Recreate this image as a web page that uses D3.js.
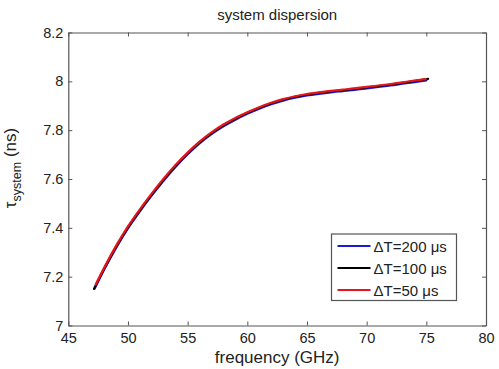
<!DOCTYPE html>
<html>
<head>
<meta charset="utf-8">
<script src="https://cdn.jsdelivr.net/npm/d3@7"></script>
<style>
  html, body { margin: 0; padding: 0; background: #fff; }
  #chart { width: 499px; height: 369px; }
  text { font-family: "Liberation Sans", Arial, Helvetica, sans-serif; }
</style>
</head>
<body>
<div id="chart"></div>
<script>
// frequency samples (GHz)
const freqBlue  = [47.2, 48, 49, 50, 51, 52, 53, 54, 55, 56, 57, 58, 59, 60, 61, 62, 63, 64, 65, 66, 67, 68, 69, 70, 71, 72, 73, 74, 75.0];
const freqBlack = [47.15, 48, 49, 50, 51, 52, 53, 54, 55, 56, 57, 58, 59, 60, 61, 62, 63, 64, 65, 66, 67, 68, 69, 70, 71, 72, 73, 74, 75.15];
const freqRed   = [47.3, 48, 49, 50, 51, 52, 53, 54, 55, 56, 57, 58, 59, 60, 61, 62, 63, 64, 65, 66, 67, 68, 69, 70, 71, 72, 73, 74, 74.95];

// system delay (ns)
const tauBlue  = [7.150, 7.228, 7.318, 7.398, 7.468, 7.533, 7.594, 7.650, 7.701, 7.746, 7.784, 7.816, 7.843, 7.867, 7.888, 7.906, 7.921, 7.933, 7.942, 7.949, 7.955, 7.960, 7.965, 7.971, 7.977, 7.983, 7.990, 7.997, 8.004];
const tauBlack = [7.150, 7.232, 7.322, 7.402, 7.472, 7.537, 7.598, 7.654, 7.705, 7.750, 7.788, 7.820, 7.847, 7.871, 7.892, 7.910, 7.925, 7.937, 7.946, 7.953, 7.959, 7.964, 7.969, 7.975, 7.981, 7.987, 7.994, 8.001, 8.010];
const tauRed   = [7.168, 7.236, 7.326, 7.406, 7.476, 7.541, 7.602, 7.658, 7.708, 7.753, 7.791, 7.823, 7.850, 7.873, 7.894, 7.912, 7.927, 7.939, 7.948, 7.955, 7.961, 7.966, 7.971, 7.977, 7.983, 7.989, 7.996, 8.003, 8.009];

const xTicks = [45, 50, 55, 60, 65, 70, 75, 80];
const yTicks = [7, 7.2, 7.4, 7.6, 7.8, 8, 8.2];

const seriesNames = ["\u0394T=200 \u03bcs", "\u0394T=100 \u03bcs", "\u0394T=50 \u03bcs"];
const seriesColors = ["#1a1ad6", "#000000", "#e8141c"];

const series = [
  { name: seriesNames[0], color: seriesColors[0], x: freqBlue, y: tauBlue },
  { name: seriesNames[1], color: seriesColors[1], x: freqBlack, y: tauBlack },
  { name: seriesNames[2], color: seriesColors[2], x: freqRed, y: tauRed }
];

const width = 499, height = 369;
const margin = { top: 32.5, right: 13, bottom: 43.5, left: 68.3 };
const w = width - margin.left - margin.right;
const h = height - margin.top - margin.bottom;

const svg = d3.select("#chart").append("svg")
  .attr("width", width)
  .attr("height", height);

const g = svg.append("g")
  .attr("transform", `translate(${margin.left},${margin.top})`);

const xScale = d3.scaleLinear().domain([45, 80]).range([0, w]);
const yScale = d3.scaleLinear().domain([7, 8.2]).range([h, 0]);

const axisColor = "#555";

// curves
const line = d3.line()
  .x(d => xScale(d[0]))
  .y(d => yScale(d[1]))
  .curve(d3.curveMonotoneX);

series.forEach(s => {
  g.append("path")
    .datum(s.x.map((f, i) => [f, s.y[i]]))
    .attr("fill", "none")
    .attr("stroke", s.color)
    .attr("stroke-width", 2.2)
    .attr("stroke-linecap", "round")
    .attr("d", line);
});

// axes (ticks inward, box on all sides)
function styleAxis(sel) {
  sel.select(".domain").attr("stroke", axisColor).attr("stroke-width", 1.2);
  sel.selectAll(".tick line").attr("stroke", axisColor);
  sel.selectAll("text")
    .attr("fill", "#222")
    .style("font-size", "14.5px");
}

g.append("g")
  .attr("transform", `translate(0,${h})`)
  .call(d3.axisBottom(xScale).tickValues(xTicks).tickSizeInner(-4).tickSizeOuter(0).tickPadding(7))
  .call(styleAxis);

g.append("g")
  .call(d3.axisLeft(yScale).tickValues(yTicks).tickSizeInner(-4).tickSizeOuter(0).tickPadding(5).tickFormat(d3.format("~g")))
  .call(styleAxis);

g.append("g")
  .call(d3.axisTop(xScale).tickValues(xTicks).tickSizeInner(-4).tickSizeOuter(0).tickFormat(""))
  .call(styleAxis);

g.append("g")
  .attr("transform", `translate(${w},0)`)
  .call(d3.axisRight(yScale).tickValues(yTicks).tickSizeInner(-4).tickSizeOuter(0).tickFormat(""))
  .call(styleAxis);

// title
svg.append("text")
  .attr("x", margin.left + w / 2)
  .attr("y", 20)
  .attr("text-anchor", "middle")
  .attr("fill", "#222")
  .style("font-size", "15px")
  .text("system dispersion");

// x label
svg.append("text")
  .attr("x", margin.left + w / 2)
  .attr("y", 363)
  .attr("text-anchor", "middle")
  .attr("fill", "#222")
  .style("font-size", "17px")
  .text("frequency (GHz)");

// y label
const yLabel = svg.append("text")
  .attr("transform", `translate(16,168) rotate(-90)`)
  .attr("text-anchor", "middle")
  .attr("fill", "#222")
  .style("font-size", "17px");
yLabel.append("tspan").text("\u03c4");
yLabel.append("tspan").attr("dy", 5).style("font-size", "12.5px").text("system");
yLabel.append("tspan").attr("dy", -5).text(" (ns)");

// legend
const legend = svg.append("g").attr("transform", "translate(331.5,234)");
legend.append("rect")
  .attr("width", 125)
  .attr("height", 66.5)
  .attr("fill", "#fff")
  .attr("stroke", axisColor)
  .attr("stroke-width", 1.2);

series.forEach((s, i) => {
  const yy = 12 + i * 22;
  legend.append("line")
    .attr("x1", 6).attr("x2", 39)
    .attr("y1", yy).attr("y2", yy)
    .attr("stroke", s.color)
    .attr("stroke-width", 2);
  legend.append("text")
    .attr("x", 42)
    .attr("y", yy + 5.5)
    .attr("fill", "#222")
    .style("font-size", "15px")
    .text(s.name);
});
</script>
</body>
</html>
